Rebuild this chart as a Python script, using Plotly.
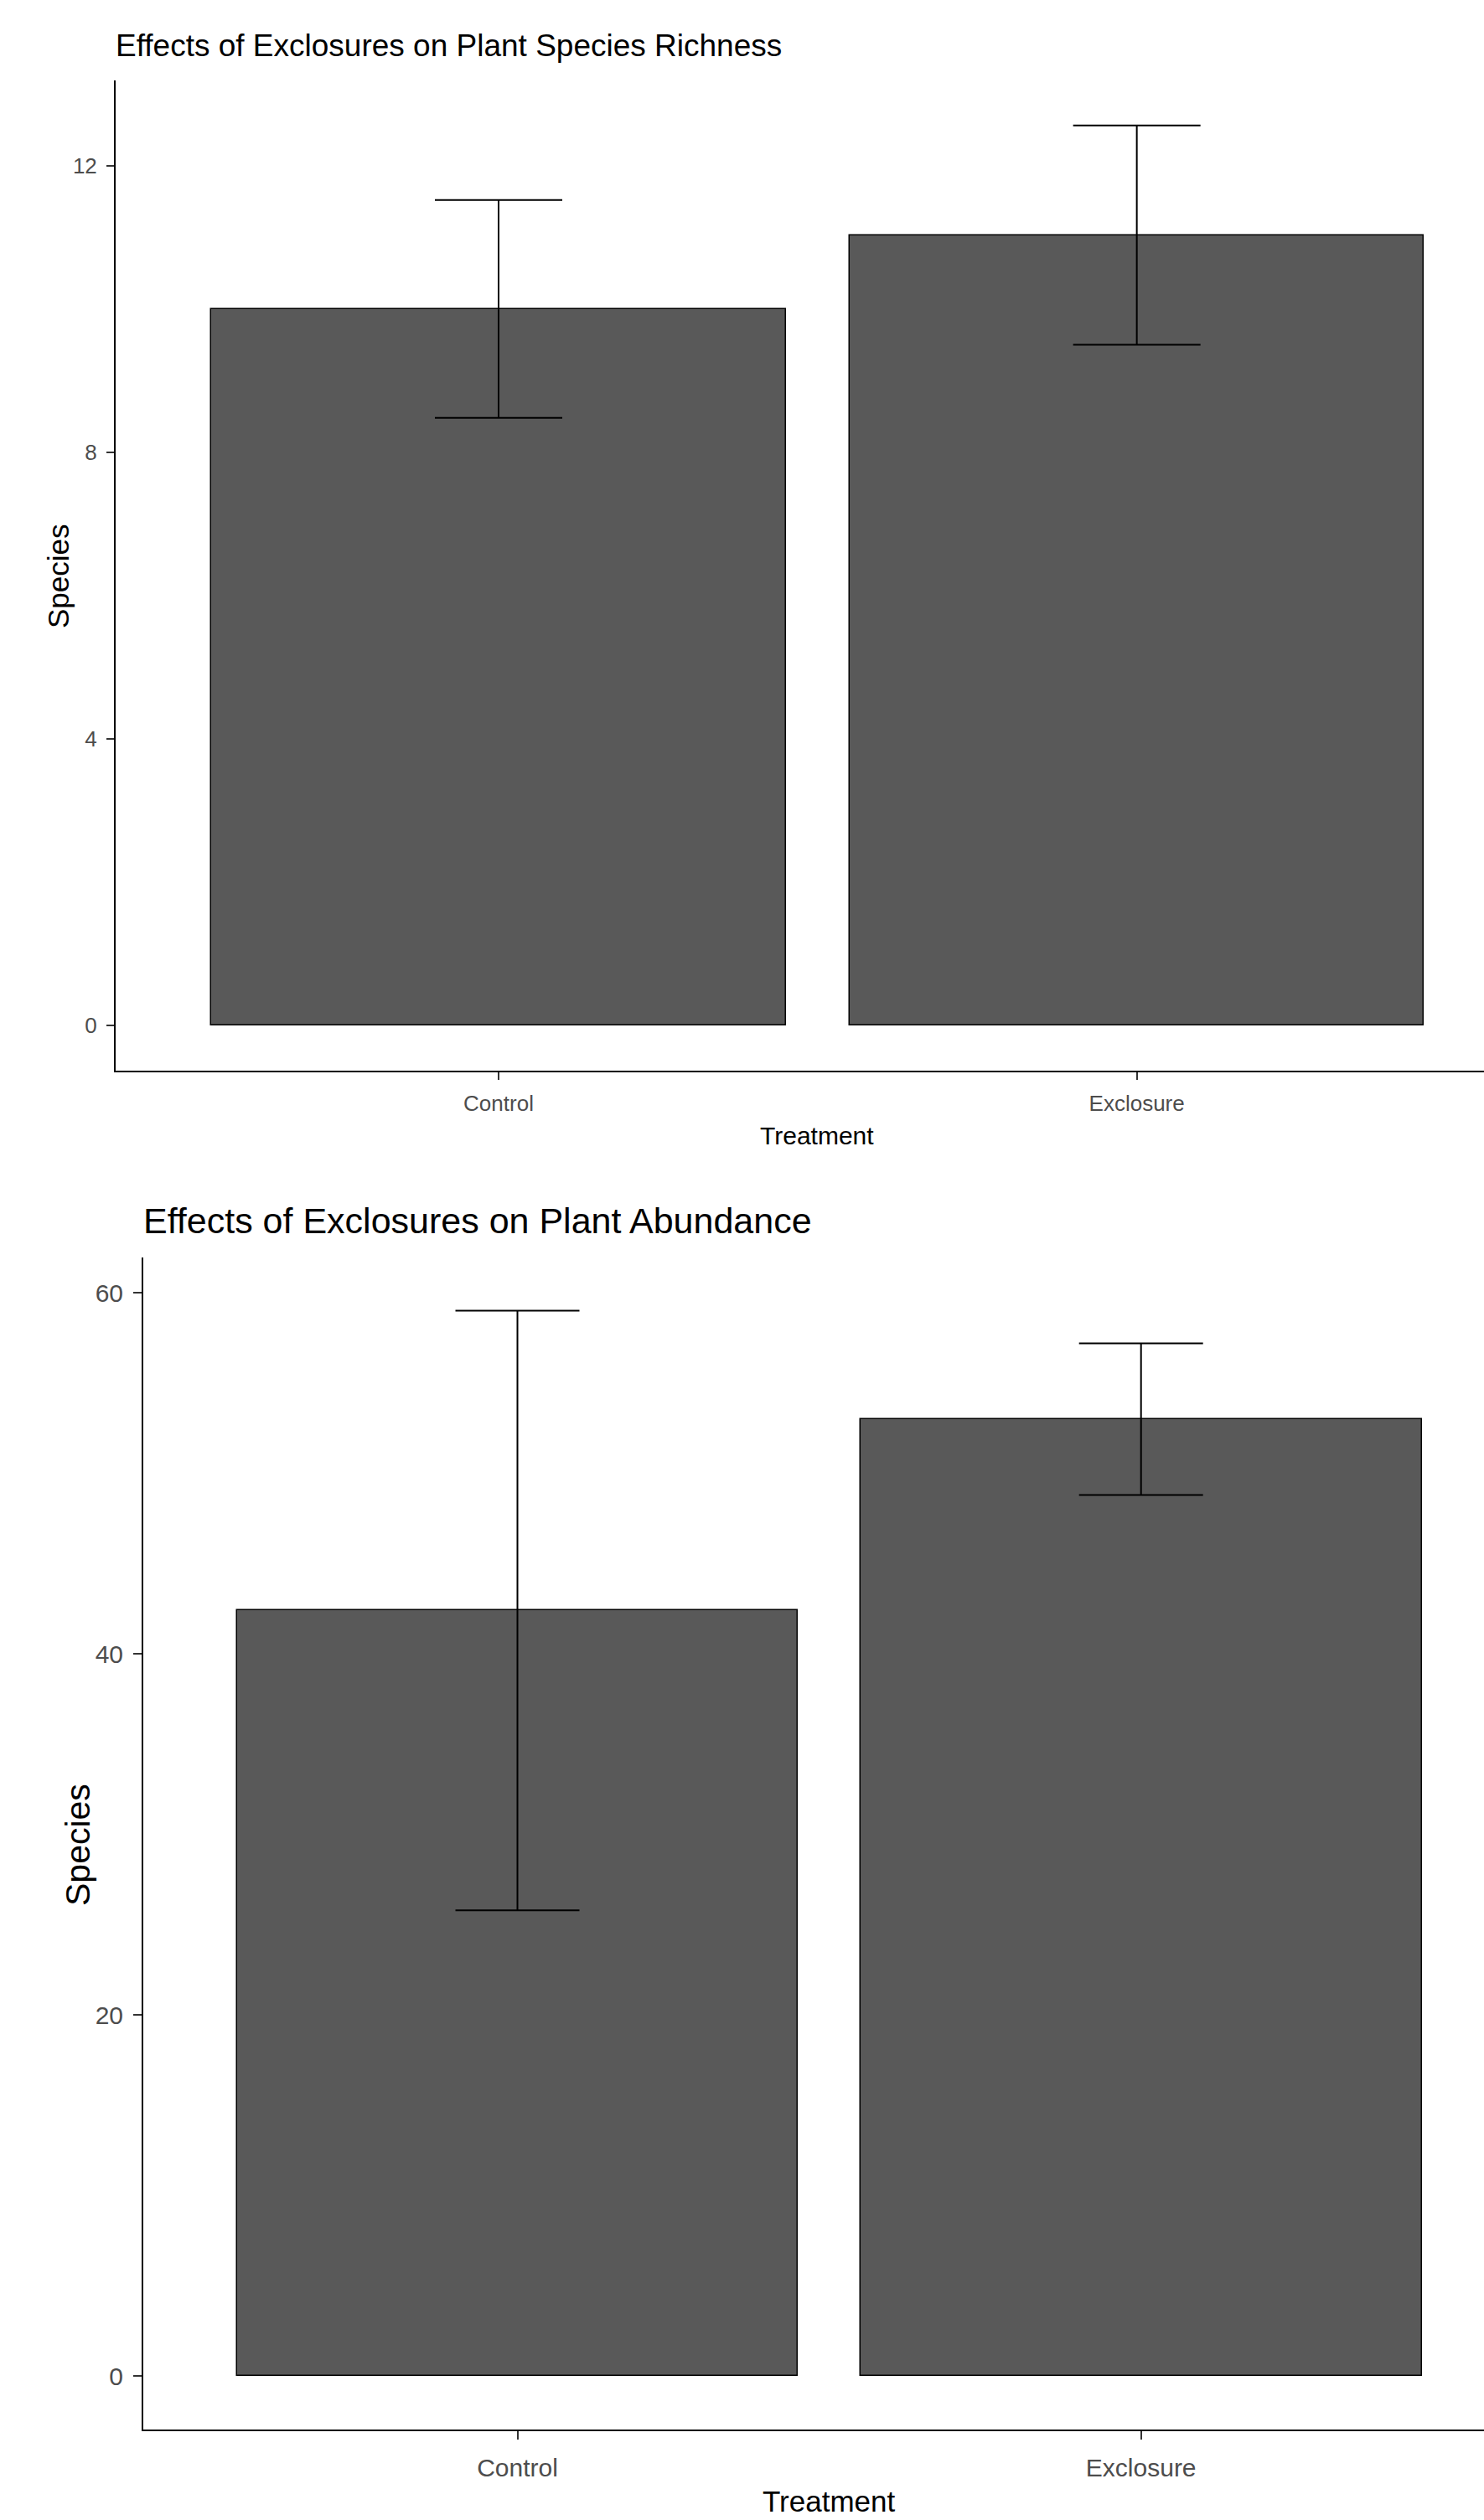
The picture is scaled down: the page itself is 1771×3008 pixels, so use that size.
import plotly.graph_objects as go

# ---------------- data ----------------
treatments = ["Control", "Exclosure"]

richness_mean = [10.0, 11.03]
richness_se = [1.52, 1.53]

abundance_mean = [42.4, 53.0]
abundance_se = [16.6, 4.2]

richness_ticks = [0, 4, 8, 12]
abundance_ticks = [0, 20, 40, 60]

title_top = "Effects of Exclosures on Plant Species Richness"
title_bottom = "Effects of Exclosures on Plant Abundance"
x_title = "Treatment"
y_title = "Species"

# ---------------- layout helpers ----------------
W, H = 1771, 3008
FONT = "Liberation Sans, Arial, Helvetica, sans-serif"
BAR_FILL = "#595959"
TICK_TXT = "#4D4D4D"


def px_x(p):
    return p / W


def px_y(p):
    return 1 - p / H


fig = go.Figure()

fig.add_trace(go.Bar(
    x=treatments, y=richness_mean, width=0.9,
    marker=dict(color=BAR_FILL, line=dict(color="black", width=1.5)),
    error_y=dict(type="data", array=richness_se, visible=True,
                 color="black", thickness=2, width=76),
    xaxis="x", yaxis="y", showlegend=False,
))

fig.add_trace(go.Bar(
    x=treatments, y=abundance_mean, width=0.9,
    marker=dict(color=BAR_FILL, line=dict(color="black", width=1.5)),
    error_y=dict(type="data", array=abundance_se, visible=True,
                 color="black", thickness=2, width=74),
    xaxis="x2", yaxis="y2", showlegend=False,
))

common_axis = dict(
    showline=True, linecolor="black", linewidth=2,
    ticks="outside", tickcolor="#333333", tickwidth=1.5,
    showgrid=False, zeroline=False,
    fixedrange=True,
)

fig.update_layout(
    width=W, height=H,
    margin=dict(l=0, r=0, t=0, b=0),
    paper_bgcolor="white", plot_bgcolor="white",
    font=dict(family=FONT, color="black"),
    bargap=0,
    xaxis=dict(domain=[px_x(138), 1], range=[-0.6, 1.544], type="category",
               anchor="y", ticklen=9, ticklabelstandoff=6,
               tickfont=dict(size=26, color=TICK_TXT), **common_axis),
    yaxis=dict(domain=[px_y(1278), px_y(96)], range=[-0.632, 13.19],
               anchor="x", tickvals=richness_ticks, ticklen=9,
               ticklabelstandoff=6,
               tickfont=dict(size=26, color=TICK_TXT), **common_axis),
    xaxis2=dict(domain=[px_x(171), 1], range=[-0.6, 1.550], type="category",
                anchor="y2", ticklen=10, ticklabelstandoff=8,
                tickfont=dict(size=30, color=TICK_TXT), **common_axis),
    yaxis2=dict(domain=[px_y(2900), px_y(1501)], range=[-2.95, 61.95],
                anchor="x2", tickvals=abundance_ticks, ticklen=10,
                ticklabelstandoff=6,
                tickfont=dict(size=30, color=TICK_TXT), **common_axis),
)

annotations = [
    dict(text=title_top, x=px_x(136), y=px_y(55), xanchor="left",
         yanchor="middle", font=dict(size=37, color="black")),
    dict(text=title_bottom, x=px_x(169), y=px_y(1457), xanchor="left",
         yanchor="middle", font=dict(size=43, color="black")),
    dict(text=x_title, x=px_x(975), y=px_y(1355), xanchor="center",
         yanchor="middle", font=dict(size=30, color="black")),
    dict(text=x_title, x=px_x(989), y=px_y(2985), xanchor="center",
         yanchor="middle", font=dict(size=35, color="black")),
    dict(text=y_title, x=px_x(70), y=px_y(688), xanchor="center",
         yanchor="middle", textangle=-90, font=dict(size=35, color="black")),
    dict(text=y_title, x=px_x(93), y=px_y(2202), xanchor="center",
         yanchor="middle", textangle=-90, font=dict(size=41, color="black")),
]
for a in annotations:
    a.update(xref="paper", yref="paper", showarrow=False)
fig.update_layout(annotations=annotations)

fig.write_html("out.html", config={"displayModeBar": False},
               post_script="document.body.style.margin='0';document.body.style.overflow='hidden';")
